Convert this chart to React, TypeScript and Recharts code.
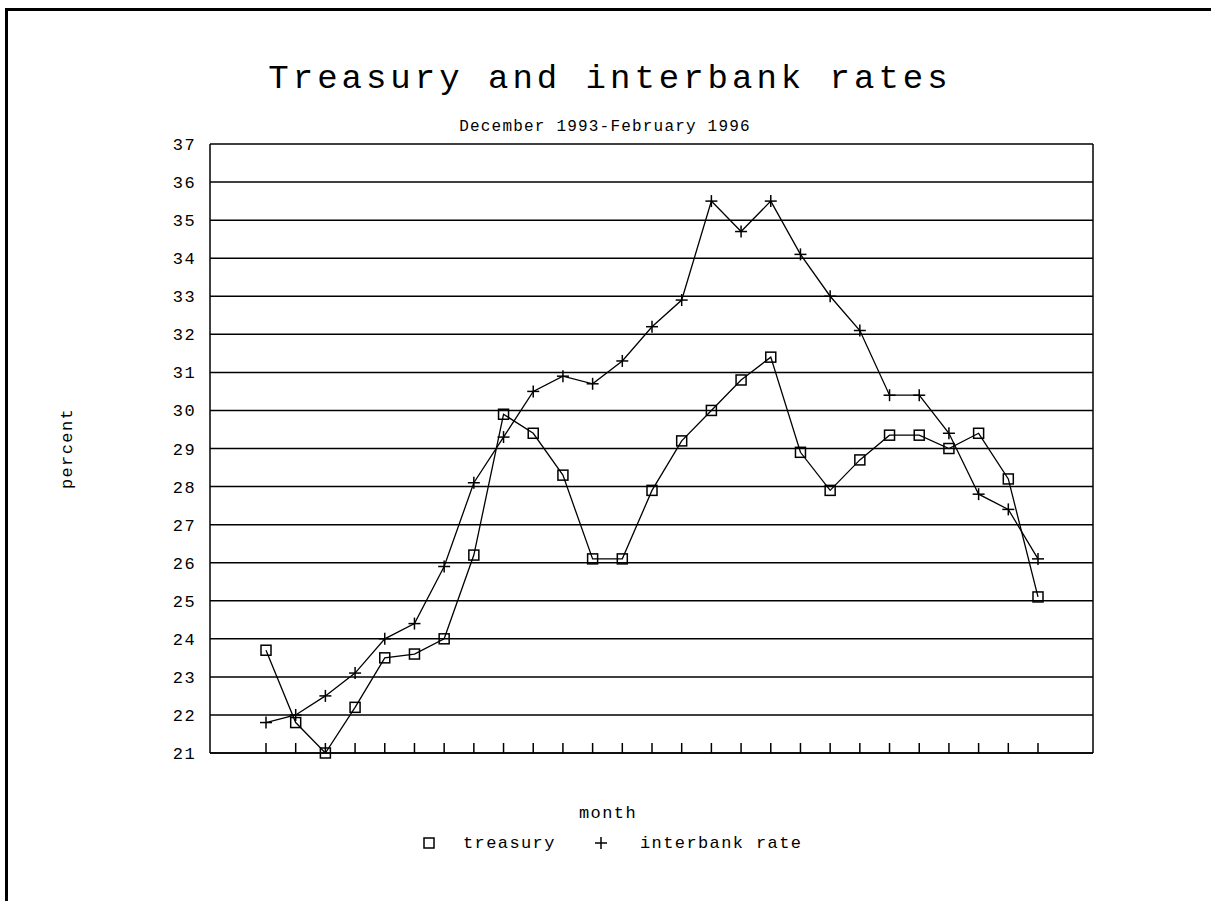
import React from "react";
import { LineChart, Line, XAxis, YAxis, CartesianGrid, Legend } from "recharts";

const months = [
  "Dec 1993", "Jan 1994", "Feb 1994", "Mar 1994", "Apr 1994", "May 1994", "Jun 1994",
  "Jul 1994", "Aug 1994", "Sep 1994", "Oct 1994", "Nov 1994", "Dec 1994", "Jan 1995",
  "Feb 1995", "Mar 1995", "Apr 1995", "May 1995", "Jun 1995", "Jul 1995", "Aug 1995",
  "Sep 1995", "Oct 1995", "Nov 1995", "Dec 1995", "Jan 1996", "Feb 1996",
];
const treasury = [
  23.7, 21.8, 21.0, 22.2, 23.5, 23.6, 24.0, 26.2, 29.9, 29.4, 28.3, 26.1, 26.1, 27.9,
  29.2, 30.0, 30.8, 31.4, 28.9, 27.9, 28.7, 29.35, 29.35, 29.0, 29.4, 28.2, 25.1,
];
const interbank = [
  21.8, 22.0, 22.5, 23.1, 24.0, 24.4, 25.9, 28.1, 29.3, 30.5, 30.9, 30.7, 31.3, 32.2,
  32.9, 35.5, 34.7, 35.5, 34.1, 33.0, 32.1, 30.4, 30.4, 29.4, 27.8, 27.4, 26.1,
];
const yTicks = [21, 22, 23, 24, 25, 26, 27, 28, 29, 30, 31, 32, 33, 34, 35, 36, 37];

const data = months.map((m, i) => ({ month: m, treasury: treasury[i], interbank: interbank[i] }));

const W = 1211;
const H = 901;
const FONT = "'Liberation Mono', 'DejaVu Sans Mono', monospace";

const SquareDot = (props: any) => {
  const { cx, cy, index } = props;
  if (cx == null || cy == null) return null;
  return <rect key={`s${index}`} x={cx - 5} y={cy - 5} width={10} height={10} fill="none" stroke="#000" strokeWidth={1.5} />;
};
const PlusDot = (props: any) => {
  const { cx, cy, index } = props;
  if (cx == null || cy == null) return null;
  return (
    <g key={`p${index}`}>
      <line x1={cx - 6} x2={cx + 6} y1={cy} y2={cy} stroke="#000" strokeWidth={1.5} />
      <line x1={cx} x2={cx} y1={cy - 6} y2={cy + 6} stroke="#000" strokeWidth={1.5} />
    </g>
  );
};

const MonthTick = (props: any) => {
  const { x, y } = props;
  return <line x1={x} x2={x} y1={y} y2={y - 10} stroke="#000" strokeWidth={1.5} />;
};

const smallText = { fontFamily: FONT, fontSize: 17, letterSpacing: 1.4, fill: "#000" };

const LegendContent = () => (
  <svg width={W} height={30} style={{ display: "block" }}>
    <rect x={424} y={10} width={10} height={10} fill="none" stroke="#000" strokeWidth={1.5} />
    <text x={463} y={20} {...(smallText as any)}>treasury</text>
    <line x1={595} x2={607} y1={15} y2={15} stroke="#000" strokeWidth={1.5} />
    <line x1={601} x2={601} y1={9} y2={21} stroke="#000" strokeWidth={1.5} />
    <text x={640} y={20} {...(smallText as any)}>interbank rate</text>
  </svg>
);

export default function App() {
  return (
    <div style={{ position: "absolute", left: 0, top: 0, width: W, height: H, overflow: "hidden", background: "#fff" }}>
      <div style={{ position: "absolute", left: 5, top: 8, width: 1300, height: 1000, borderLeft: "3px solid #000", borderTop: "3px solid #000" }} />
      <div style={{ position: "absolute", left: 0, top: 0 }}>
        <LineChart width={W} height={H} data={data} margin={{ top: 144, right: 118, bottom: 118, left: 150 }}>
          <text x={610} y={88} textAnchor="middle" style={{ fontFamily: FONT, fontSize: 34, letterSpacing: 4, fill: "#000" }}>
            Treasury and interbank rates
          </text>
          <text x={605} y={131} textAnchor="middle" style={{ fontFamily: FONT, fontSize: 16, letterSpacing: 1.2, fill: "#000" }}>
            December 1993-February 1996
          </text>
          <CartesianGrid vertical={false} stroke="#000" strokeWidth={1.5} strokeOpacity={1} />
          <CartesianGrid
            horizontal={false}
            stroke="#000"
            strokeWidth={1.5}
            strokeOpacity={1}
            verticalCoordinatesGenerator={(p: any) => [p.offset.left + p.offset.width]}
          />
          <XAxis
            dataKey="month"
            type="category"
            padding={{ left: 56, right: 55 }}
            interval={0}
            tickSize={0}
            tickMargin={0}
            tickLine={false}
            tick={<MonthTick />}
            height={30}
            axisLine={{ stroke: "#000", strokeWidth: 1.5 }}
            label={{
              content: () => (
                <text x={608} y={818} textAnchor="middle" style={smallText as any}>month</text>
              ),
            }}
          />
          <YAxis
            domain={[21, 37]}
            ticks={yTicks}
            interval={0}
            width={60}
            tickLine={false}
            tickMargin={8}
            axisLine={{ stroke: "#000", strokeWidth: 1.5 }}
            tick={{ ...smallText }}
            label={{
              content: (p: any) => {
                const vb = p.viewBox || { x: 150, y: 144, width: 60, height: 609 };
                const cx = vb.x - 83;
                const cy = vb.y + vb.height / 2;
                return (
                  <text x={cx} y={cy} textAnchor="middle" dominantBaseline="central" transform={`rotate(-90 ${cx} ${cy})`} style={smallText as any}>
                    percent
                  </text>
                );
              },
            }}
          />
          <Legend layout="horizontal" verticalAlign="middle" align="center" wrapperStyle={{ top: 828, left: 0, width: W }} content={<LegendContent />} />
          <Line dataKey="treasury" name="treasury" stroke="#000" strokeWidth={1.3} dot={<SquareDot />} isAnimationActive={false} />
          <Line dataKey="interbank" name="interbank rate" stroke="#000" strokeWidth={1.3} dot={<PlusDot />} isAnimationActive={false} />
        </LineChart>
      </div>
    </div>
  );
}
